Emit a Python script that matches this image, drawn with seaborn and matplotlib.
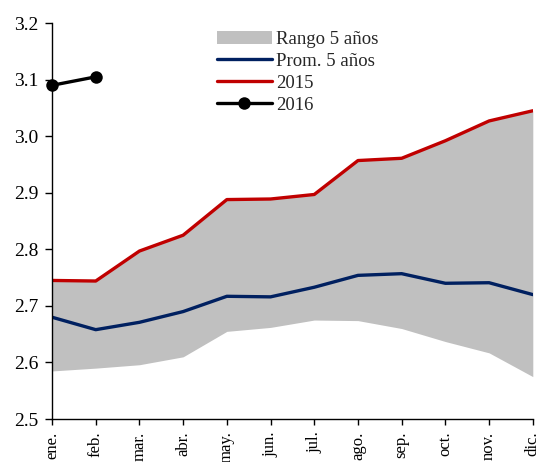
import pandas as pd
import seaborn as sns
import matplotlib.pyplot as plt

sns.set_theme(style="ticks")
plt.rcParams["font.family"] = ["Liberation Serif", "DejaVu Serif"]

# datos
meses = ["ene.", "feb.", "mar.", "abr.", "may.", "jun.", "jul.", "ago.", "sep.", "oct.", "nov.", "dic."]
rango_min = [2.585, 2.590, 2.596, 2.610, 2.655, 2.662, 2.675, 2.674, 2.660, 2.637, 2.617, 2.575]
prom_5 = [2.680, 2.658, 2.671, 2.690, 2.717, 2.716, 2.733, 2.754, 2.757, 2.740, 2.741, 2.720]
y2015 = [2.745, 2.744, 2.797, 2.825, 2.888, 2.889, 2.897, 2.957, 2.961, 2.992, 3.027, 3.045]
y2016 = [3.090, 3.105]

df = pd.DataFrame({"x": range(12), "min": rango_min, "prom": prom_5, "y2015": y2015})
df16 = pd.DataFrame({"x": range(len(y2016)), "y2016": y2016})

fig = plt.figure(figsize=(5.42, 4.62), dpi=100)
ax = fig.add_axes([0.096, 0.093, 0.887, 0.857])

ax.fill_between(df["x"], df["min"], df["y2015"], color="#c0c0c0", lw=0, label="Rango 5 años")
sns.lineplot(data=df, x="x", y="prom", color="#002060", lw=2.4, ax=ax, label="Prom. 5 años")
sns.lineplot(data=df, x="x", y="y2015", color="#c00000", lw=2.4, ax=ax, label="2015")
sns.lineplot(data=df16, x="x", y="y2016", color="black", lw=2.4, marker="o", markersize=9,
             markeredgewidth=0, ax=ax, label="2016", clip_on=False, zorder=5)

ax.set_xlim(0, 11)
ax.set_ylim(2.5, 3.2)
ax.set_xticks(range(12))
ax.set_xticklabels(meses, rotation=90, fontsize=12)
ax.set_yticks([2.5, 2.6, 2.7, 2.8, 2.9, 3.0, 3.1, 3.2])
ax.set_yticklabels(["2.5", "2.6", "2.7", "2.8", "2.9", "3.0", "3.1", "3.2"], fontsize=14)
ax.set_xlabel("")
ax.set_ylabel("")
ax.tick_params(axis="y", direction="out", length=5, width=1, colors="black", pad=5)
ax.tick_params(axis="x", direction="out", length=4, width=1, colors="black", pad=5)
for s in ["left", "bottom"]:
    ax.spines[s].set_color("black")
    ax.spines[s].set_linewidth(1)
sns.despine(ax=ax)

ax.legend(loc="upper left", bbox_to_anchor=(0.327, 1.0), frameon=False, fontsize=13.5,
          handlelength=2.95, handletextpad=0.2, labelspacing=0.26, borderaxespad=0)

fig.savefig("out.png", dpi=100)
